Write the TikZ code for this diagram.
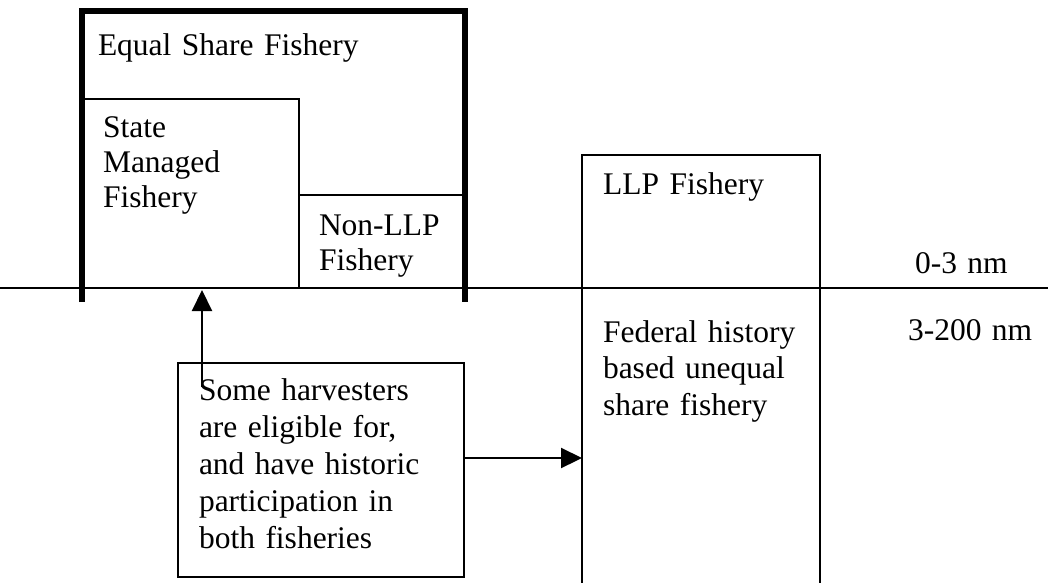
\documentclass[tikz,border=0pt]{standalone}
\usepackage{fontspec}
\setmainfont{Liberation Serif}
\usetikzlibrary{arrows.meta,calc}
\begin{document}
\begin{tikzpicture}[x=1pt,y=-1pt,
  box/.style={draw, line width=2.2pt, rectangle, inner sep=0pt, outer sep=0pt, anchor=north west},
  region/.style={rectangle, inner sep=0pt, outer sep=0pt, anchor=north west},
  thickline/.style={line width=6.5pt},
  sealine/.style={line width=2.5pt},
  txt/.style={anchor=base west, inner sep=0pt, outer sep=0pt, align=left, text width=320pt, font=\fontsize{31.5}{#1}\selectfont},
  txt/.default=36,
  arr/.style={line width=2.2pt, -{Triangle[length=21pt,width=20pt]}}
]
\useasboundingbox (0,0) rectangle (1048,582);
\clip (0,0) rectangle (1048,582);
\fill[white] (0,0) rectangle (1048,582);

% regions
\node[region, minimum width=383pt, minimum height=282pt] (equal) at (82,11) {};
\node[box, minimum width=217pt, minimum height=189pt] (state) at (82,99) {};
\node[box, minimum width=166pt, minimum height=93pt] (nonllp) at (299,195) {};
\node[box, minimum width=238pt, minimum height=440pt] (llp) at (582,155) {};
\node[box, minimum width=286pt, minimum height=214pt] (harv) at (178,363) {};

% thick frame of the equal share fishery
\draw[thickline] ([yshift=-9pt]equal.south west) -- (equal.north west) -- (equal.north east) -- ([yshift=-9pt]equal.south east);

% shoreline
\coordinate (sea0) at (0,288);
\coordinate (sea1) at (1048,288);
\draw[sealine] (sea0) -- (sea1);

% texts
\node[txt] (tequal) at (98,55) {Equal Share Fishery};
\node[txt=35] (tstate) at (103,137) {State\\Managed\\Fishery};
\node[txt=35] (tnon) at (319,235) {Non-LLP\\Fishery};
\node[txt] (tllp) at (603,194) {LLP Fishery};
\node[txt=36.5] (tfed) at (603,342) {Federal history\\based unequal\\share fishery};
\node[txt=37] (tharv) at (199,400) {Some harvesters\\are eligible for,\\and have historic\\participation in\\both fisheries};
\node[txt] (t03) at (915,273) {0-3 nm};
\node[txt] (t3200) at (908,340) {3-200 nm};

% connectors
\coordinate (a1) at (202,387);
\coordinate (y2) at (0,458);
\draw[arr] (a1) -- ([yshift=-2pt]a1 |- sea0);
\draw[arr] (harv.east |- y2) -- (llp.west |- y2);
\end{tikzpicture}
\end{document}
